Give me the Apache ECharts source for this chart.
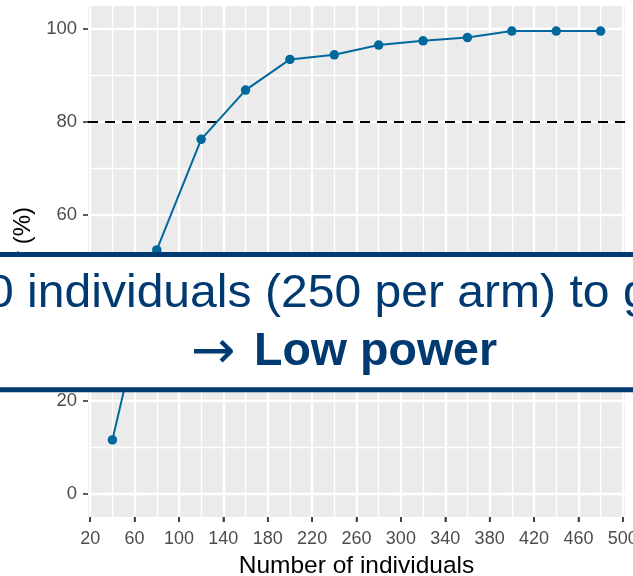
<!DOCTYPE html>
<html>
<head>
<meta charset="utf-8">
<script src="https://cdn.jsdelivr.net/npm/echarts@6/dist/echarts.min.js"></script>
<style>
html,body{margin:0;padding:0;background:#fff;}
#chart{width:633px;height:576px;}
</style>
</head>
<body>
<div id="chart"></div>
<script>
// ---- data ----
const nIndividuals = [40, 80, 120, 160, 200, 240, 280, 320, 360, 400, 440, 480];
const powerPct = [11.6, 52.5, 76.3, 86.9, 93.5, 94.5, 96.6, 97.5, 98.2, 99.6, 99.6, 99.6];
const xTickLabels = [20, 60, 100, 140, 180, 220, 260, 300, 340, 380, 420, 460, 500];
const xMinorGrid = [40, 80, 120, 160, 200, 240, 280, 320, 360, 400, 440, 480];
const yTickLabels = [0, 20, 40, 60, 80, 100];
const yMinorGrid = [10, 30, 50, 70, 90];
const targetPower = [80];
const xTitle = 'Number of individuals';
const yTitle = 'Power (%)';
const boxLine1 = '0 individuals (250 per arm) to g';
const boxArrow = '\u2192';
const boxLine2 = 'Low power';

const X_MIN = 18, X_MAX = 502, Y_MIN = -5, Y_MAX = 105;
const FONT = '"Liberation Sans", Arial, sans-serif';
const NAVY = '#003A70';

const chart = echarts.init(document.getElementById('chart'), null, {renderer: 'canvas'});

const gridLines = []
  .concat(xMinorGrid.map(v => ({xAxis: v, lineStyle: {color: '#fff', width: 1.3, type: 'solid'}})))
  .concat(yMinorGrid.map(v => ({yAxis: v, lineStyle: {color: '#fff', width: 1.3, type: 'solid'}})))
  .concat(xTickLabels.map(v => ({xAxis: v, lineStyle: {color: '#fff', width: 2.3, type: 'solid'}})))
  .concat(yTickLabels.map(v => ({yAxis: v, lineStyle: {color: '#fff', width: 2.3, type: 'solid'}})));

const option = {
  animation: false,
  backgroundColor: '#ffffff',
  textStyle: {fontFamily: FONT},
  grid: {
    left: 88, right: 8, top: 6, bottom: 59,
    containLabel: false, outerBoundsMode: 'none',
    show: true, backgroundColor: '#EBEBEB', borderWidth: 0
  },
  xAxis: {
    type: 'value', min: X_MIN, max: X_MAX,
    name: xTitle, nameLocation: 'middle', nameGap: 37,
    nameTextStyle: {color: '#000', fontSize: 24.5, fontFamily: FONT},
    axisLine: {show: false, onZero: false},
    axisTick: {show: true, inside: false, length: 5, customValues: xTickLabels, lineStyle: {color: '#333333', width: 1.6}},
    axisLabel: {customValues: xTickLabels, color: '#4D4D4D', fontSize: 18, margin: 13, fontFamily: FONT},
    splitLine: {show: false}
  },
  yAxis: {
    type: 'value', min: Y_MIN, max: Y_MAX,
    name: yTitle, nameLocation: 'middle', nameGap: 47, nameRotate: 90,
    nameTextStyle: {color: '#000', fontSize: 24, fontFamily: FONT, padding: [0, 3, 0, 0]},
    axisLine: {show: false, onZero: false},
    axisTick: {show: true, length: 5, customValues: yTickLabels, lineStyle: {color: '#333333', width: 1.6}},
    axisLabel: {customValues: yTickLabels, color: '#4D4D4D', fontSize: 18.5, margin: 11, fontFamily: FONT},
    splitLine: {show: false}
  },
  series: [
    {
      type: 'line', data: [], z: 1, silent: true,
      markLine: {z: 1, silent: true, symbol: ['none', 'none'], label: {show: false}, animation: false, data: gridLines}
    },
    {
      type: 'line', data: [], z: 2, silent: true,
      markLine: {
        z: 2, silent: true, symbol: ['none', 'none'], label: {show: false}, animation: false,
        data: targetPower.map(v => ({yAxis: v, lineStyle: {color: '#000', width: 1.8, type: [10, 7]}}))
      }
    },
    {
      // x-axis tick marks below the panel (one per tick label)
      type: 'scatter', z: 5, silent: true, clip: false,
      data: xTickLabels.map(v => [v, Y_MIN]),
      symbol: 'rect', symbolSize: [1.6, 5], symbolOffset: [0, 2.5],
      itemStyle: {color: '#333333'}
    },
    {
      type: 'line', z: 10,
      data: nIndividuals.map((n, i) => [n, powerPct[i]]),
      symbol: 'circle', symbolSize: 9.5,
      itemStyle: {color: '#00689D'},
      lineStyle: {color: '#00689D', width: 2}
    }
  ],
  graphic: [
    {
      type: 'rect', z: 100,
      shape: {x: -10, y: 254.5, width: 653, height: 135.3},
      style: {fill: '#ffffff', stroke: NAVY, lineWidth: 5}
    },
    {
      type: 'text', z: 101, x: -13, y: 294, scaleX: 1.045,
      style: {text: boxLine1, fill: NAVY, font: '46px ' + FONT, textAlign: 'left', textVerticalAlign: 'middle'}
    },
    {
      type: 'text', z: 101, x: 191, y: 354,
      style: {text: boxArrow, fill: NAVY, font: '53px "DejaVu Sans"', textAlign: 'left', textVerticalAlign: 'middle'}
    },
    {
      type: 'text', z: 101, x: 254, y: 352, scaleX: 1.012,
      style: {text: boxLine2, fill: NAVY, font: 'bold 46px ' + FONT, textAlign: 'left', textVerticalAlign: 'middle'}
    }
  ]
};
chart.setOption(option);
</script>
</body>
</html>
